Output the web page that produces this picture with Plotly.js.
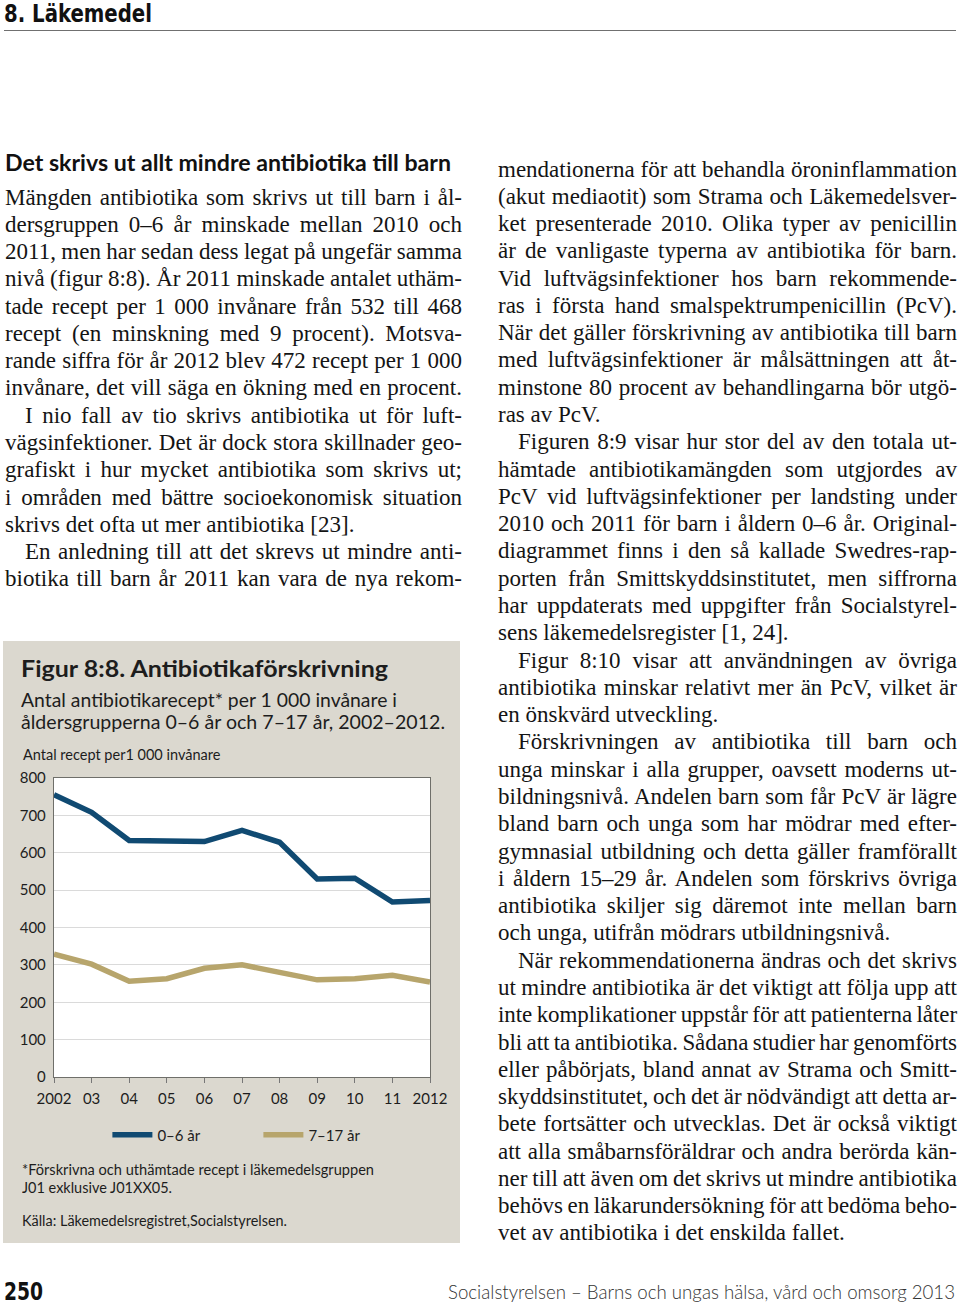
<!DOCTYPE html>
<html lang="sv">
<head>
<meta charset="utf-8">
<script src="https://cdn.plot.ly/plotly-3.0.1.min.js"></script>
<style>
  html,body{margin:0;padding:0;background:#fff;}
  #page{position:relative;width:960px;height:1306px;overflow:hidden;background:#fff;color:#151515;}
  .abs{position:absolute;white-space:nowrap;}
  .sans{font-family:Lato,"Noto Sans","DejaVu Sans",sans-serif;}
  .cond{font-family:"Liberation Sans Narrow","DejaVu Sans Condensed","DejaVu Sans",sans-serif;font-stretch:condensed;font-weight:bold;}
  .col{position:absolute;font-family:"Liberation Serif","DejaVu Serif",serif;font-size:23px;line-height:27.29px;color:#141414;}
  .col div{white-space:nowrap;height:27.29px;}
  .col div.ind{padding-left:20px;}
  #panel{position:absolute;left:3px;top:641px;width:457px;height:602px;background:#dbd8cf;}
  #chart{position:absolute;left:3px;top:741px;width:457px;height:440px;}
  .pt{color:#1d1d1d;}
</style>
</head>
<body>
<div id="page">
  <div class="abs cond" data-w="148" style="left:4px;top:0px;font-size:24px;line-height:normal;color:#111;">8. Läkemedel</div>
  <div class="abs" style="left:4px;top:30px;width:952px;border-top:1.5px solid #707070;"></div>

  <div class="abs sans" data-w="446" style="left:5px;top:147px;font-size:23px;line-height:30px;font-weight:bold;color:#111;">Det skrivs ut allt mindre antibiotika till barn</div>

  <div class="col" id="leftcol" style="left:5px;top:183.5px;width:457px;">
    <div class="j">Mängden antibiotika som skrivs ut till barn i ål-</div>
    <div class="j">dersgruppen 0–6 år minskade mellan 2010 och</div>
    <div class="j">2011, men har sedan dess legat på ungefär samma</div>
    <div class="j">nivå (figur 8:8). År 2011 minskade antalet uthäm-</div>
    <div class="j">tade recept per 1 000 invånare från 532 till 468</div>
    <div class="j">recept (en minskning med 9 procent). Motsva-</div>
    <div class="j">rande siffra för år 2012 blev 472 recept per 1 000</div>
    <div class="j">invånare, det vill säga en ökning med en procent.</div>
    <div class="j ind">I nio fall av tio skrivs antibiotika ut för luft-</div>
    <div class="j">vägsinfektioner. Det är dock stora skillnader geo-</div>
    <div class="j">grafiskt i hur mycket antibiotika som skrivs ut;</div>
    <div class="j">i områden med bättre socioekonomisk situation</div>
    <div>skrivs det ofta ut mer antibiotika [23].</div>
    <div class="j ind">En anledning till att det skrevs ut mindre anti-</div>
    <div class="j">biotika till barn år 2011 kan vara de nya rekom-</div>
  </div>

  <div class="col" id="rightcol" style="left:498px;top:155.5px;width:459px;">
    <div class="j">mendationerna för att behandla öroninflammation</div>
    <div class="j">(akut mediaotit) som Strama och Läkemedelsver-</div>
    <div class="j">ket presenterade 2010. Olika typer av penicillin</div>
    <div class="j">är de vanligaste typerna av antibiotika för barn.</div>
    <div class="j">Vid luftvägsinfektioner hos barn rekommende-</div>
    <div class="j">ras i första hand smalspektrumpenicillin (PcV).</div>
    <div class="j">När det gäller förskrivning av antibiotika till barn</div>
    <div class="j">med luftvägsinfektioner är målsättningen att åt-</div>
    <div class="j">minstone 80 procent av behandlingarna bör utgö-</div>
    <div>ras av PcV.</div>
    <div class="j ind">Figuren 8:9 visar hur stor del av den totala ut-</div>
    <div class="j">hämtade antibiotikamängden som utgjordes av</div>
    <div class="j">PcV vid luftvägsinfektioner per landsting under</div>
    <div class="j">2010 och 2011 för barn i åldern 0–6 år. Original-</div>
    <div class="j">diagrammet finns i den så kallade Swedres-rap-</div>
    <div class="j">porten från Smittskyddsinstitutet, men siffrorna</div>
    <div class="j">har uppdaterats med uppgifter från Socialstyrel-</div>
    <div>sens läkemedelsregister [1, 24].</div>
    <div class="j ind">Figur 8:10 visar att användningen av övriga</div>
    <div class="j">antibiotika minskar relativt mer än PcV, vilket är</div>
    <div>en önskvärd utveckling.</div>
    <div class="j ind">Förskrivningen av antibiotika till barn och</div>
    <div class="j">unga minskar i alla grupper, oavsett moderns ut-</div>
    <div class="j">bildningsnivå. Andelen barn som får PcV är lägre</div>
    <div class="j">bland barn och unga som har mödrar med efter-</div>
    <div class="j">gymnasial utbildning och detta gäller framförallt</div>
    <div class="j">i åldern 15–29 år. Andelen som förskrivs övriga</div>
    <div class="j">antibiotika skiljer sig däremot inte mellan barn</div>
    <div>och unga, utifrån mödrars utbildningsnivå.</div>
    <div class="j ind">När rekommendationerna ändras och det skrivs</div>
    <div class="j">ut mindre antibiotika är det viktigt att följa upp att</div>
    <div class="j">inte komplikationer uppstår för att patienterna låter</div>
    <div class="j">bli att ta antibiotika. Sådana studier har genomförts</div>
    <div class="j">eller påbörjats, bland annat av Strama och Smitt-</div>
    <div class="j">skyddsinstitutet, och det är nödvändigt att detta ar-</div>
    <div class="j">bete fortsätter och utvecklas. Det är också viktigt</div>
    <div class="j">att alla småbarnsföräldrar och andra berörda kän-</div>
    <div class="j">ner till att även om det skrivs ut mindre antibiotika</div>
    <div class="j">behövs en läkarundersökning för att bedöma beho-</div>
    <div>vet av antibiotika i det enskilda fallet.</div>
  </div>

  <div id="panel"></div>
  <div class="abs sans pt" data-w="367" style="left:21px;top:655px;font-size:22px;line-height:28px;font-weight:bold;">Figur 8:8. Antibiotikaförskrivning</div>
  <div class="abs sans pt" data-w="376" style="left:21px;top:688px;font-size:19px;line-height:24px;">Antal antibiotikarecept* per 1 000 invånare i</div>
  <div class="abs sans pt" data-w="424" style="left:21px;top:710px;font-size:19px;line-height:24px;">åldersgrupperna 0–6 år och 7–17 år, 2002–2012.</div>
  <div id="chart"></div>
  <div class="abs sans pt" data-w="352" style="left:22px;top:1161px;font-size:14.5px;line-height:18px;">*Förskrivna och uthämtade recept i läkemedelsgruppen</div>
  <div class="abs sans pt" data-w="150" style="left:22px;top:1179px;font-size:14.5px;line-height:18px;">J01 exklusive J01XX05.</div>
  <div class="abs sans pt" data-w="265" style="left:22px;top:1212px;font-size:14.5px;line-height:18px;">Källa: Läkemedelsregistret,Socialstyrelsen.</div>

  <div class="abs cond" data-w="39" style="left:4px;top:1278px;font-size:24px;line-height:28px;color:#111;">250</div>
  <div class="abs sans" data-w="507" style="left:448px;top:1278px;font-size:20px;line-height:26px;font-weight:300;color:#333;">Socialstyrelsen – Barns och ungas hälsa, vård och omsorg 2013</div>
</div>

<script>
// ---- data ----
const years = [2002, 2003, 2004, 2005, 2006, 2007, 2008, 2009, 2010, 2011, 2012];
const tickLabels = ['2002', '03', '04', '05', '06', '07', '08', '09', '10', '11', '2012'];
const age0to6 = [755, 708, 633, 630, 630, 660, 628, 530, 532, 468, 472];
const age7to17 = [329, 302, 256, 263, 291, 300, 280, 260, 263, 272, 254];
const seriesNames = ['0–6 år', '7–17 år'];
const yAxisLabel = 'Antal recept per1 000 invånare';

// ---- text fitting ----
document.querySelectorAll('[data-w]').forEach(el => {
  const t = +el.dataset.w;
  const w = el.getBoundingClientRect().width;
  if (w > 0) { el.style.transformOrigin = 'left center'; el.style.transform = 'scaleX(' + (t / w) + ')'; }
});
document.querySelectorAll('.col').forEach(col => {
  const W = parseFloat(col.style.width);
  col.querySelectorAll('div').forEach(d => {
    const ind = d.classList.contains('ind') ? 20 : 0;
    const target = W - ind;
    const span = document.createElement('span');
    span.textContent = d.textContent;
    d.textContent = '';
    d.appendChild(span);
    let nat = span.getBoundingClientRect().width;
    const len = span.textContent.length;
    const spaces = (span.textContent.match(/ /g) || []).length;
    if (!d.classList.contains('j')) {
      if (nat > target) span.style.letterSpacing = ((target - nat) / len) + 'px';
      return;
    }
    let extra = target - nat;
    if (extra / Math.max(spaces, 1) < -1.2) {
      span.style.letterSpacing = ((extra + spaces * 1.2) / len) + 'px';
      nat = span.getBoundingClientRect().width;
      extra = target - nat;
    }
    if (spaces > 0) span.style.wordSpacing = (extra / spaces) + 'px';
  });
});

// ---- chart ----
const traces = [
  {x: years, y: age0to6, name: seriesNames[0], type: 'scatter', mode: 'lines',
   line: {color: '#104a72', width: 5.5}},
  {x: years, y: age7to17, name: seriesNames[1], type: 'scatter', mode: 'lines',
   line: {color: '#b7a56c', width: 5.5}}
];
const layout = {
  width: 457, height: 440,
  margin: {l: 51, r: 30, t: 37, b: 104},
  paper_bgcolor: 'rgba(0,0,0,0)', plot_bgcolor: '#ffffff',
  font: {family: 'Lato, "Noto Sans", sans-serif', size: 15, color: '#1d1d1d'},
  xaxis: {range: [2002, 2012], tickvals: years, ticktext: tickLabels,
    ticks: 'outside', ticklen: 5, tickcolor: '#777', tickwidth: 1,
    showline: true, linecolor: '#6f6f6a', linewidth: 1.2, mirror: true,
    showgrid: false, zeroline: false, fixedrange: true, ticklabelstandoff: 3},
  yaxis: {range: [0, 800], dtick: 100, tick0: 0, showgrid: true, gridcolor: '#dadada', gridwidth: 1,
    showline: true, linecolor: '#6f6f6a', linewidth: 1.2, mirror: true,
    ticks: '', zeroline: false, fixedrange: true, ticklabelstandoff: 4},
  showlegend: true,
  legend: {orientation: 'h', x: 0.142, xanchor: 'left', y: -0.194, yanchor: 'middle',
    entrywidth: 96, entrywidthmode: 'pixels', bgcolor: 'rgba(0,0,0,0)',
    font: {size: 15, color: '#1d1d1d'}, itemwidth: 40},
  annotations: [{text: yAxisLabel, xref: 'paper', yref: 'paper', x: -0.088, y: 1.080,
    xanchor: 'left', yanchor: 'middle', showarrow: false, font: {size: 14.5, color: '#1d1d1d'}}]
};
Plotly.newPlot('chart', traces, layout, {displayModeBar: false, staticPlot: true});
</script>
</body>
</html>
